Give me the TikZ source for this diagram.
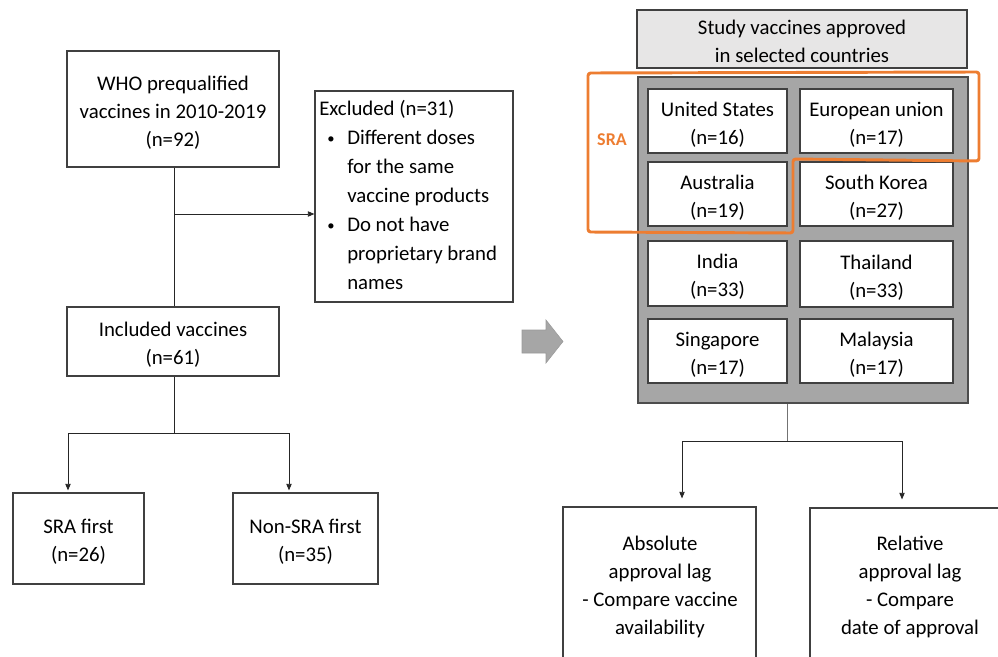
\documentclass[tikz,border=0pt]{standalone}
\usepackage{fontspec}
\setmainfont{Carlito}
\usetikzlibrary{arrows.meta,fit}
\definecolor{sraorange}{HTML}{ED7D31}
\definecolor{panelgray}{HTML}{A6A6A6}
\definecolor{titlegray}{HTML}{E7E6E6}
\definecolor{edgegray}{HTML}{404040}
\newcommand{\smallbul}{\makebox[21pt][l]{\hspace{6pt}\raisebox{0.5pt}{\fontsize{11}{11}\selectfont •}}}
\newcommand{\nobul}{\makebox[21pt][l]{}}
\begin{document}
\begin{tikzpicture}[x=0.75pt,y=-0.75pt,
  font=\fontsize{15.6}{21}\selectfont,
  box/.style={draw=edgegray, line width=0.8pt, fill=white, inner sep=0pt},
  conn/.style={draw=black!85, line width=0.7pt},
  arr/.style={conn, -{Triangle[length=5pt,width=4pt]}},
  txt/.style={inner sep=0pt, align=center, text=black},
  ctxt/.style={txt, yshift=-2.5pt}]
\useasboundingbox (0,0) rectangle (998,656);
\clip (0,0) rectangle (998,656);

% ---------- left flow ----------
\node[box, fit={(67,51) (279,167)}] (who) {};
\node[ctxt] (whotext) at (who.center) {WHO prequalified\\vaccines in 2010-2019\\(n=92)};
\node[box, fit={(315,91) (513,302)}] (excl) {};
\node[txt, anchor=west, align=left, font=\fontsize{15.6}{21.7}\selectfont] (excltext) at (319,195)
  {Excluded (n=31)\\
   \smallbul Different doses\\
   \nobul for the same\\
   \nobul vaccine products\\
   \smallbul Do not have\\
   \nobul proprietary brand\\
   \nobul names};
\node[box, fit={(67,307) (279,376)}] (incl) {};
\node[ctxt] (incltext) at (incl.center) {Included vaccines\\(n=61)};
\node[box, fit={(13,493) (144,584)}] (sra) {};
\node[ctxt] (sratext) at (sra.center) {SRA first\\(n=26)};
\node[box, fit={(233,493) (378,584)}] (nonsra) {};
\node[ctxt] (nonsratext) at (nonsra.center) {Non-SRA first\\(n=35)};

\coordinate (jx) at (174,214);
\coordinate (sL) at (68,433);
\coordinate (sR) at (289,433);
\draw[conn] (who.south -| jx) -- (incl.north -| jx);
\draw[arr] (jx) -- (jx -| excl.west);
\draw[conn] (incl.south -| jx) -- (jx |- sL);
\draw[conn] (sL) -- (sR);
\draw[arr] (sL) -- ([yshift=1.5pt]sL |- sra.north);
\draw[arr] (sR) -- ([yshift=1.5pt]sR |- nonsra.north);

% ---------- big grey arrow ----------
\filldraw[fill=panelgray, draw=black!40, line width=0.4pt]
  (522,330) -- (546,330) -- (546,320) -- (563,341.5) -- (546,363) -- (546,353) -- (522,353) -- cycle;

% ---------- right side ----------
\node[box, fill=titlegray, fit={(637,10) (967,68)}] (title) {};
\node[ctxt, yshift=1pt] (titletext) at (title.center) {Study vaccines approved\\in selected countries};
\node[box, fill=panelgray, draw=black!70, line width=1pt, fit={(638,77) (968,403)}] (panel) {};

\foreach \nm/\xa/\ya/\xb/\yb/\lab/\n in {
   us/648/89/787/153/United States/16,
   eu/800/89/953/153/European union/17,
   au/648/162/787/226/Australia/19,
   kr/800/162/953/226/South Korea/27,
   in/648/241/787/306/India/33,
   th/800/241/953/307/Thailand/33,
   sg/648/319/787/383/Singapore/17,
   my/800/319/953/383/Malaysia/17}{
  \node[box, fit={(\xa,\ya) (\xb,\yb)}] (\nm) {};
  \node[ctxt] (\nm text) at (\nm.center) {\lab\\(n=\n)};
}

% SRA outline
\draw[draw=sraorange, line width=2.2pt, rounded corners=2pt, line join=round]
  (588,73) -- (979,72) -- (979,161) -- (793,159) -- (793,233) -- (588,232) -- cycle;
\node[txt, text=sraorange, font=\fontsize{13.5}{15}\selectfont\bfseries] (sralabel) at (612,140) {SRA};

% bottom boxes
\node[box, fit={(563,507) (756,700)}] (abs) {};
\node[box, fit={(810,508) (1010,700)}] (rel) {};
\node[ctxt] (abstext) at (660,584) {Absolute\\approval lag\\- Compare vaccine\\availability};
\node[ctxt] (reltext) at (910,584) {Relative\\approval lag\\- Compare\\date of approval};

\coordinate (g0) at (787,441);
\coordinate (gL) at (682,441);
\coordinate (gR) at (902,441);
\draw[conn, draw=black!55] (panel.south -| g0) -- (g0);
\draw[conn] (gL) -- (gR);
\draw[arr] (gL) -- ([yshift=6pt]gL |- abs.north);
\draw[arr] (gR) -- ([yshift=6pt]gR |- rel.north);
\end{tikzpicture}
\end{document}
